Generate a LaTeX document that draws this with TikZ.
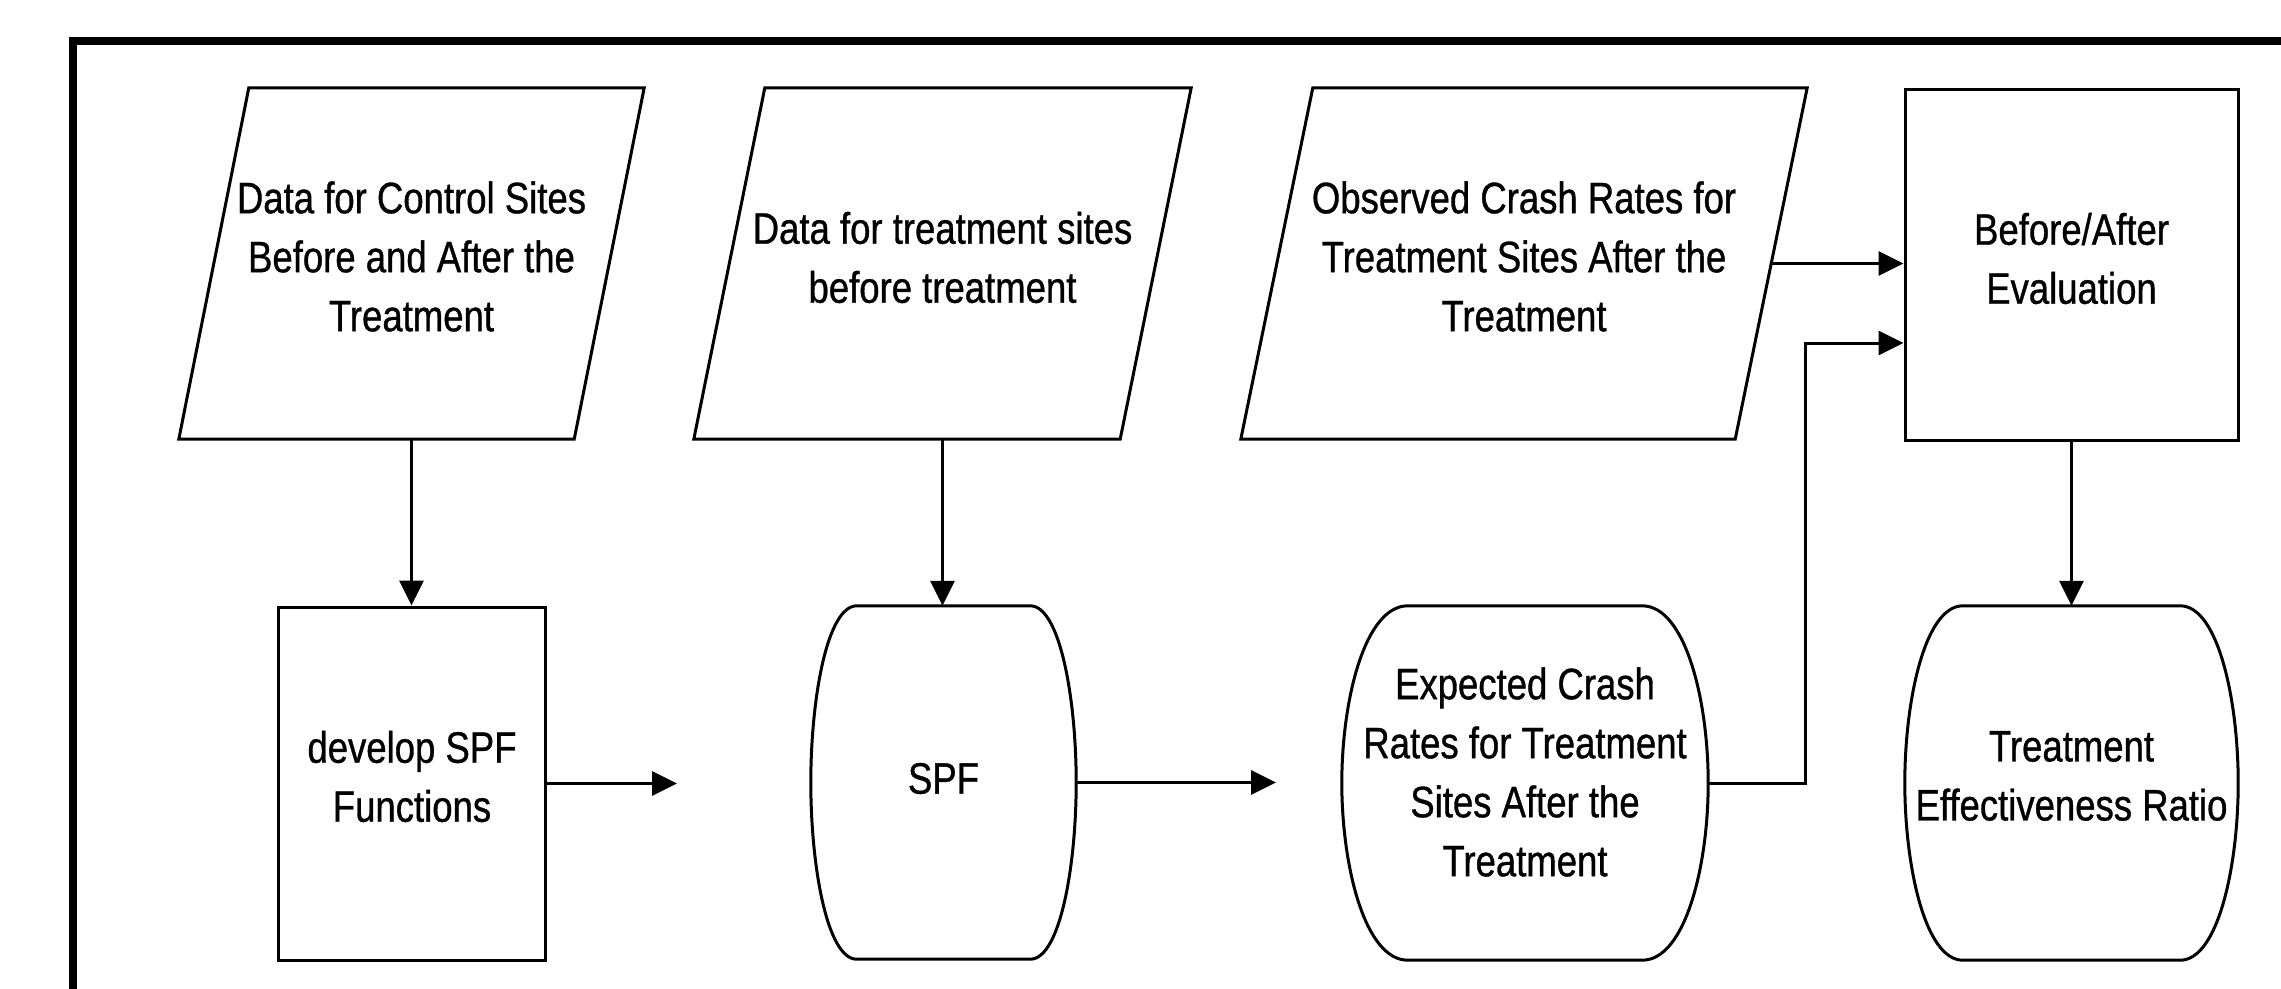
\documentclass[tikz,border=0pt]{standalone}
\usepackage{fontspec}
\setmainfont{Liberation Sans}[FakeStretch=0.83,FakeBold=0.8]
\usetikzlibrary{arrows.meta,calc}
\newcommand\nodefont{\fontsize{44}{59}\selectfont}
\newcommand\drawbarrel[2]{%
  \draw[shp] ($(#1.north west)+(#2,0)$) -- ($(#1.north east)+(-#2,0)$)
    .. controls ($(#1.north east)+(-0.35*#2,0)$) and ($(#1.east)!0.47!(#1.north east)$) .. (#1.east)
    .. controls ($(#1.east)!0.47!(#1.south east)$) and ($(#1.south east)+(-0.35*#2,0)$) .. ($(#1.south east)+(-#2,0)$)
    -- ($(#1.south west)+(#2,0)$)
    .. controls ($(#1.south west)+(0.35*#2,0)$) and ($(#1.west)!0.47!(#1.south west)$) .. (#1.west)
    .. controls ($(#1.west)!0.47!(#1.north west)$) and ($(#1.north west)+(0.35*#2,0)$) .. ($(#1.north west)+(#2,0)$)
    -- cycle;}
\newcommand\drawpara[2]{%
  \draw[shp] ($(#1.north west)+(#2,0)$) -- (#1.north east) -- ($(#1.south east)+(-#2,0)$) -- (#1.south west) -- cycle;}
\tikzset{
  shp/.style={line width=3pt, line join=miter},
  ghost/.style={inner sep=0pt, rectangle},
  procbox/.style={ghost, draw, line width=3pt},
  txt/.style={inner sep=0pt, align=center, font=\nodefont},
  arr/.style={line width=3pt, -{Triangle[length=25pt,width=24pt]}},
}
\begin{document}
\begin{tikzpicture}[x=1pt,y=-1pt]
\useasboundingbox (0,0) rectangle (2281,988);
\clip (0,0) rectangle (2281,988);
\fill[white] (0,0) rectangle (2281,988);
\draw[line width=8pt] (73,41) rectangle (2400,1100);

% top row shapes
\node[ghost, minimum width=465pt, minimum height=351pt] (p1) at (411.5,263.5) {};
\node[ghost, minimum width=497pt, minimum height=351pt] (p2) at (942.5,263.5) {};
\node[ghost, minimum width=566pt, minimum height=351pt] (p3) at (1524,263.5) {};
\node[procbox, minimum width=333pt, minimum height=351pt] (box) at (2071.5,264.5) {};
\drawpara{p1}{70}
\drawpara{p2}{71}
\drawpara{p3}{72}

% bottom row shapes
\node[procbox, minimum width=267pt, minimum height=353pt] (dev) at (412,783.5) {};
\node[ghost, minimum width=265pt, minimum height=353pt] (spf) at (943.5,782.5) {};
\node[ghost, minimum width=366pt, minimum height=354pt] (exp) at (1525,783) {};
\node[ghost, minimum width=333pt, minimum height=354pt] (tr) at (2071.5,783) {};
\drawbarrel{spf}{46}
\drawbarrel{exp}{66}
\drawbarrel{tr}{58}

% texts
\node[txt] (p1t) at ([yshift=7pt]p1.center) {Data for Control Sites\\Before and After the\\Treatment};
\node[txt] (p2t) at ([yshift=6pt]p2.center) {Data for treatment sites\\before treatment};
\node[txt] (p3t) at ([yshift=7pt]p3.center) {Observed Crash Rates for\\Treatment Sites After the\\Treatment};
\node[txt] (boxt) at ([yshift=6pt]box.center) {Before/After\\Evaluation};
\node[txt] (devt) at ([yshift=7pt]dev.center) {develop SPF\\Functions};
\node[txt] (spft) at ([yshift=4pt]spf.center) {SPF};
\node[txt] (expt) at ([yshift=11pt]exp.center) {Expected Crash\\Rates for Treatment\\Sites After the\\Treatment};
\node[txt] (trt) at ([yshift=7pt]tr.center) {Treatment\\Effectiveness Ratio};

% free ends and bends
\coordinate (c1) at (677,783.5);
\coordinate (c2) at (1276,782.5);
\coordinate (c3) at (1805,343);
\coordinate (p3r) at ($(p3.north east)!0.5!($(p3.south east)+(-72,0)$)$);

% connectors
\draw[arr] (p1.south) -- (p1.south |- dev.north);
\draw[arr] (p2.south) -- (p2.south |- spf.north);
\draw[arr] (dev.east) -- (c1);
\draw[arr] (spf.east) -- (c2);
\draw[arr] (p3r) -- (box.west |- p3r);
\draw[arr] (exp.east) -| (c3) -- (box.west |- c3);
\draw[arr] (box.south) -- (tr.north);
\end{tikzpicture}
\end{document}
